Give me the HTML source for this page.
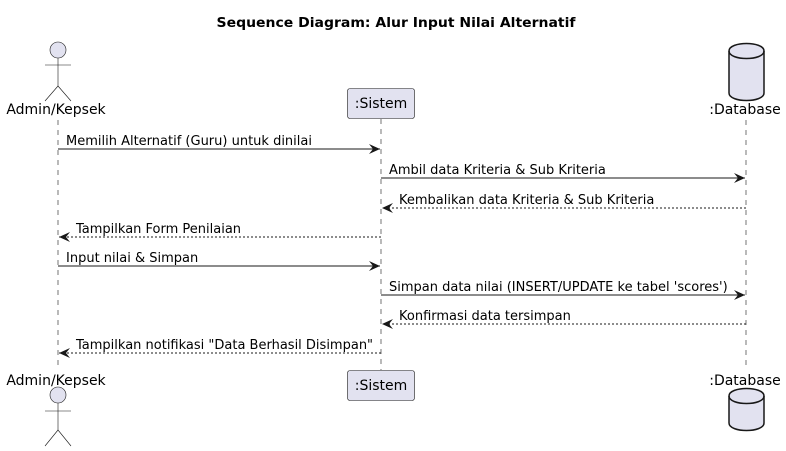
<!DOCTYPE html>
<html><head><meta charset="utf-8"><style>
html,body{margin:0;padding:0;background:#fff;}
svg{display:block;}
text{font-family:"DejaVu Sans","Liberation Sans",sans-serif;fill:#000;}
</style></head><body>
<svg width="786" height="451" viewBox="0 0 786 451" xmlns="http://www.w3.org/2000/svg">
<defs>
<marker id="a" markerWidth="12" markerHeight="10" refX="11" refY="5" orient="auto" markerUnits="userSpaceOnUse">
<path d="M0,0 L11,5 L0,10 L4,5 Z" fill="#181818"/>
</marker>
</defs>
<text x="396" y="27" font-size="13.5" font-weight="bold" text-anchor="middle" textLength="359" lengthAdjust="spacingAndGlyphs">Sequence Diagram: Alur Input Nilai Alternatif</text>
<!-- lifelines -->
<g stroke="#181818" stroke-width="0.6" stroke-dasharray="5,5">
<line x1="58" y1="120" x2="58" y2="368"/>
<line x1="381" y1="119" x2="381" y2="370"/>
<line x1="746" y1="120" x2="746" y2="368"/>
</g>
<!-- actor top -->
<g stroke="#181818" stroke-width="0.6" fill="none">
<circle cx="58" cy="50" r="8" fill="#E2E2F0"/>
<line x1="58" y1="58" x2="58" y2="86"/>
<line x1="45" y1="65" x2="71" y2="65"/>
<line x1="58" y1="86" x2="45" y2="101"/>
<line x1="58" y1="86" x2="71" y2="101"/>
</g>
<text x="56" y="114" font-size="14" text-anchor="middle">Admin/Kepsek</text>
<!-- actor bottom -->
<g stroke="#181818" stroke-width="0.6" fill="none">
<circle cx="58" cy="395" r="8" fill="#E2E2F0"/>
<line x1="58" y1="403" x2="58" y2="430"/>
<line x1="45" y1="411" x2="71" y2="411"/>
<line x1="58" y1="430" x2="45" y2="446"/>
<line x1="58" y1="430" x2="71" y2="446"/>
</g>
<text x="56" y="385" font-size="14" text-anchor="middle">Admin/Kepsek</text>
<!-- sistem boxes -->
<rect x="347.5" y="88.5" width="67" height="30" rx="2.5" fill="#E2E2F0" stroke="#181818" stroke-width="0.6"/>
<text x="381" y="108" font-size="14" text-anchor="middle">:Sistem</text>
<rect x="347.5" y="370.5" width="67" height="30" rx="2.5" fill="#E2E2F0" stroke="#181818" stroke-width="0.6"/>
<text x="381" y="390" font-size="14" text-anchor="middle">:Sistem</text>
<!-- database top -->
<g stroke="#181818" stroke-width="1.5" fill="#E2E2F0">
<path d="M729,51 C729,41 764,41 764,51 L764,93 C764,103 729,103 729,93 Z"/>
<path d="M729,51 C729,61 764,61 764,51" fill="none"/>
<path d="M729,396 C729,386 764,386 764,396 L764,423 C764,433 729,433 729,423 Z"/>
<path d="M729,396 C729,406 764,406 764,396" fill="none"/>
</g>
<text x="745" y="114" font-size="14" text-anchor="middle">:Database</text>
<text x="745" y="385" font-size="14" text-anchor="middle">:Database</text>
<!-- messages -->
<g stroke="#181818" stroke-width="1" fill="none">
<line x1="58" y1="149" x2="380" y2="149" marker-end="url(#a)"/>
<line x1="381" y1="178" x2="745" y2="178" marker-end="url(#a)"/>
<line x1="746" y1="208" x2="382" y2="208" stroke-dasharray="2,2" marker-end="url(#a)"/>
<line x1="381" y1="237" x2="59" y2="237" stroke-dasharray="2,2" marker-end="url(#a)"/>
<line x1="58" y1="266" x2="380" y2="266" marker-end="url(#a)"/>
<line x1="381" y1="295" x2="745" y2="295" marker-end="url(#a)"/>
<line x1="746" y1="324" x2="382" y2="324" stroke-dasharray="2,2" marker-end="url(#a)"/>
<line x1="381" y1="353" x2="59" y2="353" stroke-dasharray="2,2" marker-end="url(#a)"/>
</g>
<g font-size="13">
<text x="66" y="145">Memilih Alternatif (Guru) untuk dinilai</text>
<text x="389" y="174">Ambil data Kriteria &amp; Sub Kriteria</text>
<text x="399" y="204">Kembalikan data Kriteria &amp; Sub Kriteria</text>
<text x="76" y="233">Tampilkan Form Penilaian</text>
<text x="66" y="262">Input nilai &amp; Simpan</text>
<text x="389" y="291">Simpan data nilai (INSERT/UPDATE ke tabel 'scores')</text>
<text x="399" y="320">Konfirmasi data tersimpan</text>
<text x="76" y="349">Tampilkan notifikasi "Data Berhasil Disimpan"</text>
</g>
</svg>
</body></html>
